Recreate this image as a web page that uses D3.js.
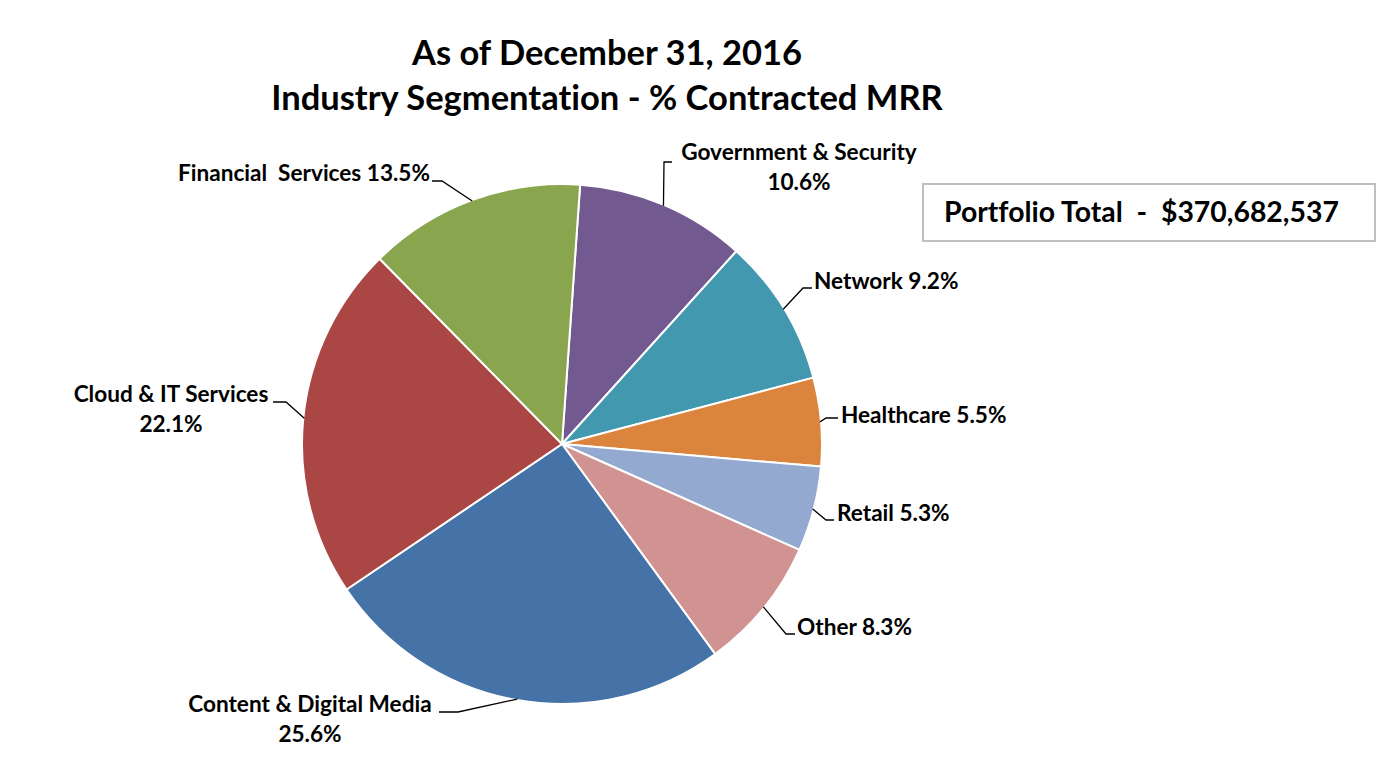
<!DOCTYPE html>
<html>
<head>
<meta charset="utf-8">
<script src="https://cdn.jsdelivr.net/npm/d3@7"></script>
<style>
  html, body { margin: 0; padding: 0; background: #ffffff; }
  svg { display: block; }
  text { font-family: Lato, "Open Sans", sans-serif; font-weight: bold; fill: #000; font-variant-ligatures: none; font-feature-settings: "liga" 0; }
</style>
</head>
<body>
<svg id="chart" width="1384" height="763"></svg>
<script>
// ---- data ----
const categories = ["Government & Security", "Network", "Healthcare", "Retail", "Other",
                    "Content & Digital Media", "Cloud & IT Services", "Financial Services"];
const shares = [10.6, 9.2, 5.5, 5.3, 8.3, 25.6, 22.1, 13.5];
const colors = ["#725990", "#4198AF", "#DB843D", "#93A9CF", "#D19392", "#4572A7", "#AA4643", "#89A54E"];
const titleLines = ["As of December 31, 2016", "Industry Segmentation - % Contracted MRR"];
const totalLabel = "Portfolio Total  -  $370,682,537";

// ---- label layout (lines of text, anchor, position, leader elbow) ----
const labelLayout = [
  { lines: ["Government & Security", "10.6%"], anchor: "middle", x: 799, y: 160, elbow: [[664, 162], [672, 162]] },
  { lines: ["Network 9.2%"], anchor: "start", x: 814, y: 289, elbow: [[803, 288], [812, 288]] },
  { lines: ["Healthcare 5.5%"], anchor: "start", x: 841, y: 423, elbow: [[826, 418], [838, 418]] },
  { lines: ["Retail 5.3%"], anchor: "start", x: 837, y: 521, elbow: [[826, 520], [834, 520]] },
  { lines: ["Other 8.3%"], anchor: "start", x: 797, y: 635, elbow: [[786, 634], [795, 634]] },
  { lines: ["Content & Digital Media", "25.6%"], anchor: "middle", x: 310, y: 712, elbow: [[458, 712], [439, 712]] },
  { lines: ["Cloud & IT Services", "22.1%"], anchor: "middle", x: 171, y: 402, elbow: [[286, 402], [273, 402]] },
  { lines: ["Financial  Services 13.5%"], anchor: "end", x: 430, y: 181, elbow: [[442, 181], [432, 181]] }
];

const svg = d3.select("#chart");
const cx = 562, cy = 444, R = 260;

// title
svg.selectAll("text.title").data(titleLines).enter().append("text")
  .attr("class", "title")
  .attr("x", 607).attr("y", (d, i) => 65 + i * 45)
  .attr("text-anchor", "middle")
  .style("font-size", "34.5px")
  .text(d => d);

// pie
const startOffset = 4 * Math.PI / 180;
const pie = d3.pie().sort(null).value(d => d)
  .startAngle(startOffset).endAngle(startOffset + 2 * Math.PI);
const arcs = pie(shares);
const arc = d3.arc().innerRadius(0).outerRadius(R);

const g = svg.append("g").attr("transform", `translate(${cx},${cy})`);
g.selectAll("path.slice").data(arcs).enter().append("path")
  .attr("class", "slice")
  .attr("d", arc)
  .attr("fill", (d, i) => colors[i])
  .attr("stroke", "#ffffff")
  .attr("stroke-width", 2)
  .attr("stroke-linejoin", "round");

// leader lines
const edge = d => {
  const a = (d.startAngle + d.endAngle) / 2;
  return [cx + (R - 1) * Math.sin(a), cy - (R - 1) * Math.cos(a)];
};
svg.selectAll("path.leader").data(arcs).enter().append("path")
  .attr("class", "leader")
  .attr("d", (d, i) => d3.line()([edge(d), ...labelLayout[i].elbow]))
  .attr("fill", "none")
  .attr("stroke", "#000")
  .attr("stroke-width", 1.3);

// labels
const lbl = svg.selectAll("text.lbl").data(arcs).enter().append("text")
  .attr("class", "lbl")
  .attr("text-anchor", (d, i) => labelLayout[i].anchor)
  .style("font-size", "22.6px")
  .style("white-space", "pre");
lbl.each(function(d, i) {
  const L = labelLayout[i];
  d3.select(this).selectAll("tspan").data(L.lines).enter().append("tspan")
    .attr("x", L.x).attr("y", (t, j) => L.y + j * 30)
    .text(t => t);
});

// portfolio total box
svg.append("rect")
  .attr("x", 923).attr("y", 184).attr("width", 452).attr("height", 57)
  .attr("fill", "#fff").attr("stroke", "#bfbfbf").attr("stroke-width", 2);
svg.append("text")
  .attr("x", 944).attr("y", 222)
  .style("font-size", "28.4px")
  .style("white-space", "pre")
  .text(totalLabel);
</script>
</body>
</html>
